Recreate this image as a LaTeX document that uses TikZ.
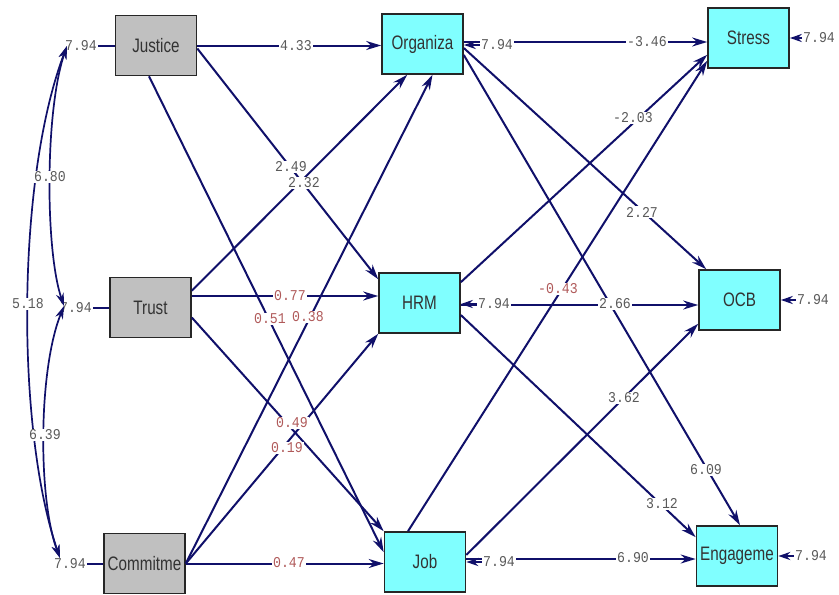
\documentclass[tikz,border=0pt]{standalone}
\usepackage{fontspec}
\usetikzlibrary{arrows.meta}
\newfontfamily\boxfont{Liberation Sans}[FakeStretch=0.78]
\newfontfamily\numfont{Liberation Mono}[FakeStretch=0.88]
\definecolor{pathblue}{HTML}{10106A}
\definecolor{boxgray}{HTML}{C0C0C0}
\definecolor{boxcyan}{HTML}{80FFFF}
\definecolor{labgray}{HTML}{5A5A5A}
\definecolor{labred}{HTML}{B05A5A}
\begin{document}
\begin{tikzpicture}[x=1pt,y=-1pt,
  varbox/.style={draw=black!85, line width=1.6pt, minimum width=81pt, minimum height=60pt, inner sep=0pt,
    font=\boxfont\fontsize{19.5}{22}\selectfont, text=black!80},
  exo/.style={varbox, fill=boxgray},
  endo/.style={varbox, fill=boxcyan},
  conn/.style={draw=pathblue, line width=2pt, -{Stealth[length=15pt,width=9pt]}},
  plain/.style={draw=pathblue, line width=2pt},
  cov/.style={draw=pathblue, line width=1.7pt, {Stealth[length=13pt,width=8pt]}-{Stealth[length=13pt,width=8pt]}},
  errarr/.style={draw=pathblue, line width=2pt, -{Stealth[length=12pt,width=8pt]}},
  lab/.style={font=\numfont\fontsize{15}{16}\selectfont, text=labgray, fill=white, inner sep=1pt},
  labr/.style={lab, text=labred},
  elab/.style={font=\numfont\fontsize{15}{16}\selectfont, text=labgray, inner sep=1pt}
]
\useasboundingbox[fill=white] (0,0) rectangle (839,595);

% variables
\node[exo] (J) at (156,45.5) {Justice};
\node[exo] (T) at (150.5,307.5) {Trust};
\node[exo] (C) at (144.5,563.5) {Commitme};
\node[endo] (O) at (422.5,44) {Organiza};
\node[endo] (H) at (419.5,303) {HRM};
\node[endo] (Jb) at (425,562) {Job};
\node[endo] (S) at (748.5,38) {Stress};
\node[endo] (B) at (739.5,300) {OCB};
\node[endo] (E) at (737,556) {Engageme};

% paths
\draw[conn] (J.east) -- (J.east -| O.west);
\draw[conn] ([yshift=-3pt]J.east) -- ([yshift=-7pt]H.north west);
\draw[conn] ([xshift=-7pt]J.south) -- ([yshift=-21pt]Jb.north west);
\draw[conn] ([yshift=-14pt]T.north east) -- ([xshift=26pt]O.south west);
\draw[conn] ([yshift=11.5pt]T.east) coordinate (tA) -- (tA -| H.west);
\draw[conn] ([yshift=-10pt]T.east) -- (Jb.north west);
\draw[conn] (C.east) -- ([xshift=10pt]O.south);
\draw[conn] (C.east) -- (H.south west);
\draw[conn] (C.east) -- (C.east -| Jb.west);
\draw[conn] ([yshift=2pt]O.east) coordinate (oA) -- (oA -| S.west);
\draw[conn] ([yshift=-4pt]O.east) -- ([xshift=8pt]B.north west);
\draw[conn] ([yshift=-11pt]O.east) -- ([xshift=3pt]E.north);
\draw[conn] ([yshift=-10pt]H.north east) -- ([yshift=14pt]S.south west);
\draw[conn] ([yshift=-2pt]H.east) coordinate (hA) -- (hA -| B.west);
\draw[conn] ([yshift=-12pt]H.east) -- ([yshift=-12pt]E.north west);
\draw[conn] ([xshift=-17pt]Jb.north) -- ([yshift=8pt]S.south west);
\draw[conn] ([yshift=7pt]Jb.east) -- ([yshift=7pt]B.south west);
\draw[conn] ([yshift=3pt]Jb.east) coordinate (jA) -- (jA -| E.west);

% exogenous variances
\node[elab] (eJ) at (81,45.5) {7.94};
\node[elab] (eT) at (76,307.5) {7.94};
\node[elab] (eC) at (70,563.5) {7.94};
\draw[plain] (eJ.east) -- (J.west);
\draw[plain] (eT.east) -- (T.west);
\draw[plain] (eC.east) -- (C.west);

% error terms of endogenous variables
\node[lab] (eO) at (497,45) {7.94};
\node[lab] (eH) at (494,304) {7.94};
\node[lab] (eJb) at (499,562) {7.94};
\node[lab] (eS) at (819,38) {7.94};
\node[lab] (eB) at (813,300) {7.94};
\node[lab] (eE) at (811,556) {7.94};
\draw[errarr] (eO.west) -- (eO.west -| O.east);
\draw[errarr] (eH.west) -- (eH.west -| H.east);
\draw[errarr] (eJb.west) -- (eJb.west -| Jb.east);
\draw[errarr] (eS.west) -- (eS.west -| S.east);
\draw[errarr] (eB.west) -- (eB.west -| B.east);
\draw[errarr] (eE.west) -- (eE.west -| E.east);

% covariances
\coordinate (cJ) at (67,46);
\coordinate (cT) at (64,306);
\coordinate (cC) at (60,558);
\draw[cov] (cJ) .. controls (45,110) and (45,250) .. (cT);
\draw[cov] (cJ) .. controls (16,180) and (16,430) .. (cC);
\draw[cov] (cT) .. controls (38,370) and (38,500) .. (cC);
\node[lab] (k1) at (50,177) {6.80};
\node[lab] (k2) at (28,304) {5.18};
\node[lab] (k3) at (45,435) {6.39};

% coefficients
\node[lab] (p1) at (296,45.5) {4.33};
\node[lab] (p2) at (291,167) {2.49};
\node[lab] (p3) at (304,183) {2.32};
\node[labr] (p4) at (290,296) {0.77};
\node[labr] (p5) at (270,319) {0.51};
\node[labr] (p6) at (308,317) {0.38};
\node[labr] (p7) at (292,423) {0.49};
\node[labr] (p8) at (287,448) {0.19};
\node[labr] (p9) at (289,563) {0.47};
\node[lab] (q1) at (647,42) {-3.46};
\node[lab] (q2) at (633,118) {-2.03};
\node[lab] (q3) at (642,212) {2.27};
\node[labr] (q4) at (558,289) {-0.43};
\node[lab] (q5) at (615,304) {2.66};
\node[lab] (q6) at (624,398) {3.62};
\node[lab] (q7) at (706,470) {6.09};
\node[lab] (q8) at (662,504) {3.12};
\node[lab] (q9) at (633,558) {6.90};
\end{tikzpicture}
\end{document}
